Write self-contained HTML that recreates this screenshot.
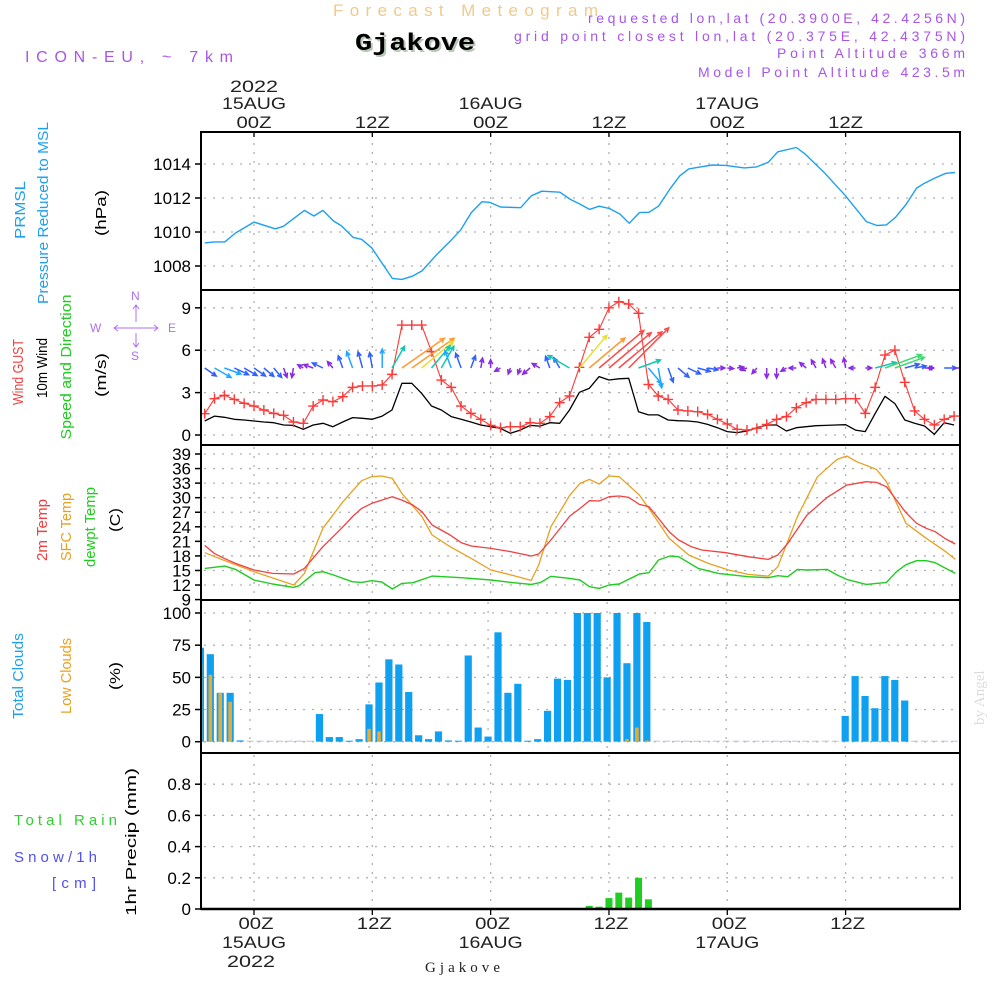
<!DOCTYPE html>
<html><head><meta charset="utf-8"><style>
html,body{margin:0;padding:0;background:#fff;}
svg{display:block;font-family:"Liberation Sans",sans-serif;}
</style></head><body>
<svg id="chart" width="1000" height="1000" viewBox="0 0 1000 1000" xmlns="http://www.w3.org/2000/svg">
<rect x="0" y="0" width="1000" height="1000" fill="#fff"/>
<g id="grid"></g>
<g id="marks"></g>
<g id="frames" fill="none" stroke="#000" stroke-width="2">
<rect x="201" y="132" width="759" height="158"/>
<rect x="201" y="290" width="759" height="155"/>
<rect x="201" y="445" width="759" height="155"/>
<rect x="201" y="600" width="759" height="153"/>
<rect x="201" y="753" width="759" height="156"/>
</g>
<g id="labels"></g>

<text x="333" y="16" font-size="17" fill="#f2c98a" textLength="265" lengthAdjust="spacing">Forecast Meteogram</text>
<text x="357" y="52" font-size="24" font-weight="bold" font-family="Liberation Mono, monospace" fill="#b8c8b8" textLength="120" lengthAdjust="spacingAndGlyphs">Gjakove</text>
<text x="355" y="50" font-size="24" font-weight="bold" font-family="Liberation Mono, monospace" fill="#000" textLength="120" lengthAdjust="spacingAndGlyphs">Gjakove</text>
<text x="25" y="62" font-size="16" fill="#a855e8" textLength="208" lengthAdjust="spacing">ICON-EU, ~ 7km</text>
<g fill="#a855e8" font-size="14" text-anchor="end">
<text x="965" y="23" textLength="377" lengthAdjust="spacing">requested lon,lat (20.3900E, 42.4256N)</text>
<text x="965" y="41" textLength="451" lengthAdjust="spacing">grid point closest lon,lat (20.375E, 42.4375N)</text>
<text x="965" y="58" textLength="188" lengthAdjust="spacing">Point Altitude 366m</text>
<text x="965" y="77" textLength="267" lengthAdjust="spacing">Model Point Altitude 423.5m</text>
</g>
<text transform="translate(984,725) rotate(-90)" font-size="15" font-family="Liberation Serif, serif" fill="#dcdcdc">by Angel</text>
<text x="425" y="972" font-size="15" font-family="Liberation Serif, serif" fill="#222" textLength="75" lengthAdjust="spacing">Gjakove</text>

<g fill="#b070f0" stroke="#b070f0" font-size="12">
<text x="131" y="300" stroke="none">N</text>
<text x="90" y="332" stroke="none">W</text>
<text x="168" y="332" stroke="none">E</text>
<text x="131" y="360" stroke="none">S</text>
<path d="M136 305 L136 322 M133 309 L136 305 L139 309 M136 333 L136 347 M133 343 L136 347 L139 343 M114 328 L158 328 M118 325 L114 328 L118 331 M154 325 L158 328 L154 331" fill="none" stroke-width="1"/>
</g>

<g font-size="15">
<text x="14" y="825" fill="#30d030" textLength="103" lengthAdjust="spacing">Total  Rain</text>
<text x="14" y="862" fill="#5050f0" textLength="83" lengthAdjust="spacing">Snow/1h</text>
<text x="52" y="888" fill="#5050f0" textLength="44" lengthAdjust="spacing">[cm]</text>
</g>
</svg>
<script>
// ---------- data ----------
const hours = [];
for (let h = -5; h <= 71; h++) hours.push(h);

const presTimes = [-5,-4.03,-2.96,-1.88,0,2.15,2.96,5.11,6.08,6.99,8.06,8.87,10.05,10.91,11.94,14.03,15,16.13,17.04,18.55,19.89,20.97,22.04,23.12,23.92,25,27.04,28.12,29.19,31.02,32.1,33.06,34.03,35,36.02,37.1,38.06,39.09,40.05,41.02,42.2,43.17,44.09,45.43,46.5,47.85,49.73,50.97,52.15,53.12,55,55.9,57.8,59.95,62.1,63.17,64.14,65.05,66.13,67.2,68,69.1,70.16,71.1];
const presValues = [1009.36,1009.42,1009.42,1009.94,1010.58,1010.19,1010.33,1011.27,1010.94,1011.27,1010.65,1010.36,1009.68,1009.57,1009.07,1007.27,1007.21,1007.42,1007.71,1008.68,1009.45,1010.13,1011.14,1011.78,1011.74,1011.47,1011.43,1012.13,1012.40,1012.34,1011.91,1011.64,1011.33,1011.52,1011.39,1011.06,1010.52,1011.14,1011.16,1011.52,1012.55,1013.3,1013.71,1013.84,1013.94,1013.92,1013.77,1013.83,1014.1,1014.72,1014.97,1014.58,1013.52,1012.16,1010.61,1010.38,1010.42,1010.86,1011.62,1012.58,1012.87,1013.18,1013.45,1013.5];

const gustValues = [1.51,2.57,2.81,2.52,2.24,2.05,1.77,1.53,1.39,0.92,0.83,2.05,2.48,2.36,2.71,3.37,3.47,3.47,3.54,4.29,7.78,7.78,7.78,5.9,3.89,3.37,2.05,1.53,1.11,0.68,0.52,0.59,0.59,0.87,0.83,1.30,2.29,2.76,4.79,6.91,7.48,9.0,9.43,9.27,8.61,3.58,2.76,2.52,1.77,1.70,1.65,1.46,1.11,0.78,0.40,0.35,0.47,0.75,1.11,1.30,1.93,2.29,2.52,2.52,2.52,2.57,2.57,1.53,3.37,5.66,6.01,3.73,1.70,1.11,0.71,1.11,1.34];
const windValues = [0.99,1.34,1.25,1.11,1.06,0.99,0.92,0.87,0.71,0.68,0.40,0.71,0.83,0.59,0.92,1.23,1.18,1.11,1.34,1.77,3.66,3.66,2.95,2.05,1.77,1.30,1.11,0.92,0.71,0.59,0.47,0.12,0.35,0.68,0.63,0.87,0.83,1.77,3.02,3.30,4.13,3.89,3.98,4.01,1.65,1.42,1.42,1.06,1.01,0.99,0.92,0.75,0.52,0.24,0.17,0.28,0.52,0.71,0.71,0.28,0.52,0.59,0.66,0.68,0.71,0.73,0.35,0.24,1.53,2.74,2.22,1.06,0.83,0.64,0.05,0.87,0.71];
const windDirs = [125,120,110,115,120,125,130,140,160,190,300,290,295,320,340,340,345,350,0,30,55,55,50,40,30,340,340,20,10,0,240,200,200,230,300,340,330,300,40,50,50,50,50,45,70,140,170,160,130,115,105,100,90,95,80,250,220,180,180,240,270,310,330,340,330,350,270,90,75,70,70,75,80,90,270,90,90];

const t2Times = [-5,-4.03,-2.96,-1.88,0,1.88,4.03,5.11,6.99,8.87,10.05,10.91,11.94,14.03,15,16.13,17.04,18.06,19.89,21.02,22.04,24.03,26.08,28.12,28.87,30.11,32.04,33.06,34.03,35,36.02,37.04,38.01,39.09,40.05,41.02,42.1,43.06,44.35,45.43,47.85,50.11,52.15,53.12,54.14,56.08,58.12,60.11,62.1,63.12,64.14,66.13,67.2,68.17,69.09,70.16,71.13];
const t2Values = [20.17,18.52,17.43,16.46,15.09,14.40,14.27,15.43,19.9,23.68,26.22,27.8,28.83,30.2,29.51,28.48,27.11,24.36,22.3,20.72,20.04,19.55,18.87,17.98,18.39,21.27,26.22,27.8,29.38,29.31,30.2,30.34,30.06,28.62,28.14,25.74,22.99,21.27,19.9,19.21,18.66,17.84,17.29,18.18,20.59,26.42,30.06,32.6,33.29,33.15,32.26,26.9,24.71,23.68,22.99,21.48,20.45];
const sfcTimes = [-5,-2.96,0,4.03,5.11,6.99,9.03,10.91,11.94,12.96,14.03,15,17.04,18.06,19.89,22.04,24.03,26.08,28.12,28.87,30.11,32.04,33.06,34.03,35,36.02,37.04,39.09,40.05,42.1,44.09,46.08,48.12,50.11,52.15,53.12,55.11,57.15,59.14,60.11,61.13,63.12,64.14,66.13,68.17,70.16,71.13];
const sfcValues = [18.66,17.01,14.75,12.0,14.4,23.68,29.17,33.5,34.32,34.46,33.98,30.89,26.08,22.3,19.9,17.49,15.09,14.06,12.96,16.12,24.02,30.54,32.95,33.77,32.81,34.46,34.32,30.54,27.8,21.62,18.18,16.46,15.09,14.2,13.85,15.78,26.08,34.32,37.89,38.58,37.41,35.83,33.29,24.71,21.62,18.87,17.29];
const dewTimes = [-5,-2.96,-1.88,0,1.88,4.03,4.57,6.18,6.99,8.06,9.95,10.91,11.94,12.96,14.03,15,16.13,18.06,21.02,24.03,26.08,28.12,29.09,30.11,32.04,33.06,34.03,35,36.02,37.04,39.09,40.05,41.02,42.2,43.06,45.05,47.1,50.11,52.15,53.12,54.14,55.11,56.08,58.12,59.14,60.11,62.1,64.14,65.16,66.13,67.2,68.17,69.09,70.16,71.13];
const dewValues = [15.43,15.91,15.23,13.03,12.21,11.52,11.86,14.54,14.75,14.06,12.69,12.55,12.89,12.62,11.18,12.34,12.48,13.85,13.51,13.03,12.55,12.14,12.55,13.79,13.37,13.03,11.66,11.31,12.0,12.21,14.27,14.54,17.15,17.98,17.84,15.43,14.4,13.72,13.51,13.92,13.72,15.23,15.09,15.23,14.06,13.17,12.14,12.55,14.75,16.19,17.01,17.01,16.6,15.43,14.4];

const totalClouds = [73,68,38,38,1,0,0,0,0,0,0,0,21.5,3.6,3.6,0.5,2,29,46,64,60,38.6,5,2,8,1,0.5,67,11,4,85,38,45,0.5,2,24,49,48,100,100,100,50,100,61,100,93,0,0,0,0,0,0,0,0,0,0,0,0,0,0,0,0,0,0,0,20,51,35.5,26,51,48,32,0,0,0,0,0];
const lowClouds = [60,52,38,31,0,0,0,0,0,0,0,0,0,0,0,0,0,10,8,0,0,0,0,0,0,0,0,0,0,0,0,0,0,0,0,0,0,0,0,0,0,0,0,2,11,1,0,0,0,0,0,0,0,0,0,0,0,0,0,0,0,0,0,0,0,0,0,0,0,0,0,0,0,0,0,0,0];
const precipHours = [33,34,35,36,37,38,39,40];
const precipValues = [0.003,0.02,0.015,0.07,0.105,0.073,0.2,0.062];

const presTicks = [1008,1010,1012,1014];
const windTicks = [0,3,6,9];
const tempTicks = [9,12,15,18,21,24,27,30,33,36,39];
const cloudTicks = [0,25,50,75,100];
const precipTicks = [0,0.2,0.4,0.6,0.8];
const precipTickLabels = ["0","0.2","0.4","0.6","0.8"];
const gridHours = [0,12,24,36,48,60];
const topHourLabels = ["00Z","12Z","00Z","12Z","00Z","12Z"];
const dayLabels = ["15AUG","16AUG","17AUG"];

// ---------- axes ----------
const L = 201, R = 960;
const X = t => 254 + t * 9.86;
const Xc = t => 250 + t * 9.92;
const Yp = v => 164 + (1014 - v) * 17;
const Yw = v => 435 - v * 14.13;
const Yt = v => 454 + (39 - v) * 4.853;
const Yc = v => 741.7 - v * 1.287;
const Yr = v => 909 - v * 156;

const NS = "http://www.w3.org/2000/svg";
const grid = document.getElementById('grid');
const marks = document.getElementById('marks');
const labels = document.getElementById('labels');
function mk(tag, attrs, parent) {
  const e = document.createElementNS(NS, tag);
  for (const k in attrs) e.setAttribute(k, attrs[k]);
  parent.appendChild(e);
  return e;
}
function txt(str, attrs, parent) { const e = mk('text', attrs, parent); e.textContent = str; return e; }
const dot = {stroke:'#b0b0b0','stroke-width':1.3,'stroke-dasharray':'2 7',fill:'none'};

const panels = [[132,290,X],[290,445,X],[445,600,X],[600,753,Xc],[753,909,X]];
panels.forEach(p => {
  gridHours.forEach(h => {
    const g = mk('line', Object.assign({x1:p[2](h),x2:p[2](h),y1:p[0]+2,y2:p[1]-2}, dot), grid);
    
    
  });
});
function hgrid(ticks, Y, top, bottom, tickLabels, name) {
  ticks.forEach((v, i) => {
    const y = Y(v);
    if (y > top + 2 && y < bottom - 2) {
      const g = mk('line', Object.assign({x1:L+3,x2:R-3,y1:y,y2:y}, dot), grid);
      
      
    }
    const tk = mk('line', {x1:L-6,x2:L,y1:y,y2:y,stroke:'#000','stroke-width':1.5}, labels);
    
    
    const lb = txt(tickLabels ? tickLabels[i] : String(v), {x:L-10,y:y+6,'text-anchor':'end','font-size':17,fill:'#000'}, labels);
    
    
  });
}
hgrid(presTicks, Yp, 132, 290, null, 'pressure');
hgrid(windTicks, Yw, 290, 445, null, 'wind');
hgrid(tempTicks, Yt, 445, 600, null, 'temp');
hgrid(cloudTicks, Yc, 600, 753, null, 'cloud');
hgrid(precipTicks, Yr, 753, 909, precipTickLabels, 'precip');

const defs = mk('defs', {}, document.getElementById('chart'));
const cp = mk('clipPath', {id:'plotclip'}, defs);
mk('rect', {x:L, y:132, width:R-L, height:777}, cp);
marks.setAttribute('clip-path', 'url(#plotclip)');

function poly(times, vals, Xf, Yf, color, name, w) {
  const pts = times.map((t, i) => Xf(t).toFixed(1) + ',' + Yf(vals[i]).toFixed(1)).join(' ');
  const e = mk('polyline', {points:pts, fill:'none', stroke:color, 'stroke-width':w||1.3, 'stroke-linejoin':'round'}, marks);
  
  
}
poly(presTimes, presValues, X, Yp, '#1ea0f0', 'pressure-line', 1.4);
poly(sfcTimes, sfcValues, X, Yt, '#e8a020', 'sfc-temp-line', 1.3);
poly(t2Times, t2Values, X, Yt, '#f04040', 'temp-2m-line', 1.3);
poly(dewTimes, dewValues, X, Yt, '#20cc20', 'dewpoint-line', 1.4);
poly(hours, windValues, X, Yw, '#000', 'wind-speed-line', 1.3);
poly(hours, gustValues, X, Yw, '#ff3838', 'wind-gust-line', 1.1);
hours.forEach((t, i) => {
  const x = X(t), y = Yw(gustValues[i]);
  const e = mk('path', {d:`M${x-5} ${y} L${x+5} ${y} M${x} ${y-5} L${x} ${y+5}`, stroke:'#ff3838', 'stroke-width':1.4, fill:'none'}, marks);
  
  
});
function windColor(s) {
  if (s < 0.75) return '#8a2be2';
  if (s < 1.2) return '#3060ff';
  if (s < 1.5) return '#20a8ff';
  if (s < 2.2) return '#10c8b0';
  if (s < 2.8) return '#40d870';
  if (s < 3.3) return '#e8e030';
  if (s < 3.8) return '#ff9a30';
  return '#ff4848';
}
hours.forEach((t, i) => {
  const s = windValues[i], d = windDirs[i] * Math.PI / 180;
  const len = Math.max(s, 0.45) * 14.13;
  const x0 = X(t), y0 = 368;
  const x1 = x0 + len * Math.sin(d), y1 = y0 - len * Math.cos(d);
  const ang = Math.atan2(y1 - y0, x1 - x0), hl = 5;
  const ax = x1 - hl * Math.cos(ang - 0.45), ay = y1 - hl * Math.sin(ang - 0.45);
  const bx = x1 - hl * Math.cos(ang + 0.45), by = y1 - hl * Math.sin(ang + 0.45);
  const e = mk('path', {d:`M${x0.toFixed(1)} ${y0} L${x1.toFixed(1)} ${y1.toFixed(1)} M${ax.toFixed(1)} ${ay.toFixed(1)} L${x1.toFixed(1)} ${y1.toFixed(1)} L${bx.toFixed(1)} ${by.toFixed(1)}`, stroke:windColor(s), 'stroke-width':1.5, fill:'none'}, marks);
  
  
});
hours.forEach((t, i) => {
  const v = totalClouds[i];
  const x = Xc(t);
  const h = Math.max(Yc(0) - Yc(v), 1);
  const b = mk('rect', {x:x-3.6, y:Yc(0)-h, width:7.2, height:h, fill: v > 0.2 ? '#10a0f0' : '#b8c8d8'}, marks);
  
  
  const lv = lowClouds[i];
  if (lv > 0) {
    const lh = Yc(0) - Yc(lv);
    const o = mk('rect', {x:x-1.8, y:Yc(0)-lh, width:3.6, height:lh, fill:'#e8aa30'}, marks);
    
    
  }
});
precipHours.forEach((t, i) => {
  const h = Yr(0) - Yr(precipValues[i]);
  const b = mk('rect', {x:X(t)-3.5, y:Yr(0)-h, width:7, height:h, fill:'#22cc22'}, marks);
  
  
});
mk('line', {x1:L, x2:R, y1:909, y2:909, stroke:'#000', 'stroke-width':2.5}, labels);

gridHours.forEach((h, i) => {
  const x = X(h);
  const tt = mk('line', {x1:x,x2:x,y1:132,y2:137,stroke:'#000','stroke-width':1.3}, labels);
  
  
  const bt = mk('line', {x1:x,x2:x,y1:909,y2:915,stroke:'#000','stroke-width':1.3}, labels);
  
  
  const a = txt(topHourLabels[i], {x:x,y:128,'text-anchor':'middle','font-size':17,fill:'#222',textLength:35,lengthAdjust:'spacingAndGlyphs'}, labels);
  
  
  const b = txt(topHourLabels[i], {x:x+2,y:929,'text-anchor':'middle','font-size':17,fill:'#222',textLength:35,lengthAdjust:'spacingAndGlyphs'}, labels);
  
  
  if (h % 24 === 0) {
    const d = dayLabels[h / 24];
    const c = txt(d, {x:x,y:109,'text-anchor':'middle','font-size':17,fill:'#222',textLength:64,lengthAdjust:'spacingAndGlyphs'}, labels);
    
    
    const e = txt(d, {x:x,y:948,'text-anchor':'middle','font-size':17,fill:'#222',textLength:64,lengthAdjust:'spacingAndGlyphs'}, labels);
    
    
  }
});
const y1 = txt('2022', {x:254,y:92,'text-anchor':'middle','font-size':17,fill:'#222',textLength:48,lengthAdjust:'spacingAndGlyphs'}, labels);


const y2 = txt('2022', {x:251,y:967,'text-anchor':'middle','font-size':17,fill:'#222',textLength:48,lengthAdjust:'spacingAndGlyphs'}, labels);



const titles = [
  ['PRMSL', 25, 210, '#1ea0f0', 58, 'pressure-title'],
  ['Pressure Reduced to MSL', 48, 213, '#1ea0f0', 182, 'pressure-subtitle'],
  ['(hPa)', 106, 213, '#000', 46, 'pressure-unit'],
  ['Wind GUST', 23, 372, '#f04040', 66, 'gust-title'],
  ['10m Wind', 47, 368, '#000', 60, 'wind-title'],
  ['Speed and Direction', 71, 367, '#20cc20', 145, 'wind-subtitle'],
  ['(m/s)', 106, 375, '#000', 44, 'wind-unit'],
  ['2m Temp', 47, 530, '#f04040', 62, 'temp2m-title'],
  ['SFC Temp', 71, 527, '#e8a020', 68, 'sfc-temp-title'],
  ['dewpt Temp', 95, 527, '#20cc20', 80, 'dewpt-title'],
  ['(C)', 120, 520, '#000', 24, 'temp-unit'],
  ['Total Clouds', 23, 676, '#1ea0f0', 86, 'total-clouds-title'],
  ['Low Clouds', 71, 676, '#e8a020', 76, 'low-clouds-title'],
  ['(%)', 120, 676, '#000', 28, 'clouds-unit'],
  ['1hr Precip (mm)', 136, 842, '#000', 148, 'precip-title']
];
titles.forEach(a => {
  const e = txt(a[0], {transform:`translate(${a[1]},${a[2]}) rotate(-90)`, 'text-anchor':'middle','font-size':15,fill:a[3],textLength:a[4],lengthAdjust:'spacingAndGlyphs'}, labels);
  
  
});
</script>
</body></html>
